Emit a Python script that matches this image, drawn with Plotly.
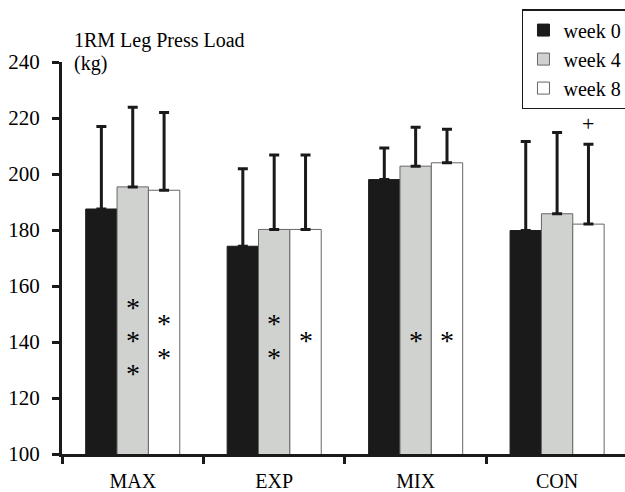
import plotly.graph_objects as go

categories = ["MAX", "EXP", "MIX", "CON"]
series_names = ["week 0", "week 4", "week 8"]
week0 = [187.5, 174.2, 198.0, 179.8]
week0_sd = [29.5, 27.7, 11.3, 31.8]
week4 = [195.4, 180.2, 202.8, 185.8]
week4_sd = [28.4, 26.6, 13.9, 29.0]
week8 = [194.2, 180.2, 204.0, 182.1]
week8_sd = [27.8, 26.6, 12.0, 28.5]
# significance marks (count of asterisks per bar) and "+" marks
stars_week0 = [0, 0, 0, 0]
stars_week4 = [3, 2, 1, 0]
stars_week8 = [2, 1, 1, 0]
plus_week8 = [0, 0, 0, 1]
y_ticks = [100, 120, 140, 160, 180, 200, 220, 240]

FONT = "Liberation Serif, Times New Roman, serif"
INK = "#000000"
fills = ["#1a1a1a", "#d0d2d0", "#ffffff"]
edges = ["#1a1a1a", "#666666", "#666666"]
values = [week0, week4, week8]
sds = [week0_sd, week4_sd, week8_sd]
stars = [stars_week0, stars_week4, stars_week8]
pluses = [[0, 0, 0, 0], [0, 0, 0, 0], plus_week8]

BARGAP = 0.335
bw = (1 - BARGAP) / 3

fig = go.Figure()
for i in range(3):
    fig.add_trace(go.Bar(
        x=categories, y=values[i], name=series_names[i],
        marker=dict(color=fills[i], line=dict(color=edges[i], width=1)),
        error_y=dict(type="data", array=sds[i], arrayminus=[0] * 4, symmetric=False,
                     color="#1a1a1a", thickness=3, width=5),
    ))

annotations = []
STAR_CENTER = 141.6
STAR_STEP = 11.9
for i in range(3):
    off = (i - 1) * bw
    for j in range(4):
        n = stars[i][j]
        for k in range(n):
            yv = STAR_CENTER + ((n - 1) / 2 - k) * STAR_STEP
            annotations.append(dict(x=j + off, y=yv, xref="x", yref="y", text="*",
                                    showarrow=False, yanchor="middle", yshift=-3,
                                    font=dict(family=FONT, size=28, color=INK)))
        if pluses[i][j]:
            annotations.append(dict(x=j + off, y=values[i][j] + sds[i][j] + 7.6, xref="x", yref="y",
                                    text="+", showarrow=False, yanchor="middle",
                                    font=dict(family=FONT, size=22, color=INK)))

annotations.append(dict(x=0.018, y=1.054, xref="paper", yref="paper", text="1RM Leg Press Load",
                        showarrow=False, xanchor="left", yanchor="middle",
                        font=dict(family=FONT, size=20, color=INK)))
annotations.append(dict(x=0.018, y=0.995, xref="paper", yref="paper", text="(kg)",
                        showarrow=False, xanchor="left", yanchor="middle",
                        font=dict(family=FONT, size=20, color=INK)))

fig.update_layout(
    width=625, height=492,
    margin=dict(l=62, r=0, t=62, b=38, autoexpand=False),
    paper_bgcolor="white", plot_bgcolor="white",
    barmode="group", bargap=BARGAP, bargroupgap=0,
    font=dict(family=FONT, size=20, color=INK),
    showlegend=True,
    legend=dict(x=0.817, y=1.135, xanchor="left", yanchor="top",
                bordercolor="#1a1a1a", borderwidth=1.5, bgcolor="white",
                font=dict(family=FONT, size=20, color=INK),
                itemwidth=30, tracegroupgap=0),
    annotations=annotations,
    xaxis=dict(range=[-0.5, 3.48], showline=True, linecolor="#1a1a1a", linewidth=3,
               ticks="outside", tickson="boundaries", ticklen=7, tickwidth=3, tickcolor="#1a1a1a",
               showgrid=False, zeroline=False, fixedrange=True, ticklabelstandoff=7,
               tickfont=dict(family=FONT, size=20, color=INK)),
    yaxis=dict(range=[100, 240], tickvals=y_ticks, showline=True, linecolor="#1a1a1a", linewidth=3,
               ticks="outside", ticklen=7, tickwidth=3, tickcolor="#1a1a1a",
               showgrid=False, zeroline=False, ticklabelstandoff=8,
               tickfont=dict(family=FONT, size=21, color=INK)),
)

fig.write_html("out.html", config={"displayModeBar": False},
               post_script="document.body.style.margin='0';document.body.style.overflow='hidden';")
